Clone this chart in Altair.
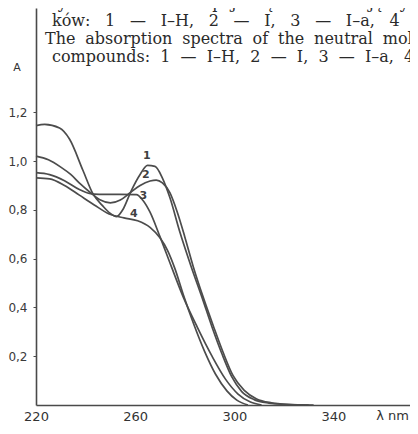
import altair as alt
import pandas as pd

# ---- data (wavelength in nm, absorbance A) ----
wl_1 = [220, 223.5, 229.5, 233.5, 239, 243, 247, 250, 252.5, 255, 258.5, 262, 265, 268, 271, 274, 278, 282.5, 287, 291, 295, 299, 303, 308, 314, 320, 330]
a_1 = [1.145, 1.15, 1.135, 1.09, 0.96, 0.865, 0.815, 0.785, 0.772, 0.80, 0.88, 0.945, 0.982, 0.978, 0.93, 0.85, 0.71, 0.57, 0.44, 0.32, 0.21, 0.115, 0.055, 0.022, 0.008, 0.003, 0.0]

wl_2 = [220, 225, 230, 234, 238, 242, 246, 250, 254, 258, 262, 266, 268.5, 271, 274, 277, 280, 283.5, 287.5, 291.5, 295.5, 299.5, 304, 309, 315, 321, 332]
a_2 = [1.02, 1.005, 0.975, 0.945, 0.905, 0.87, 0.84, 0.828, 0.84, 0.87, 0.90, 0.918, 0.922, 0.91, 0.87, 0.79, 0.69, 0.565, 0.44, 0.325, 0.215, 0.12, 0.06, 0.025, 0.009, 0.003, 0.0]

wl_3 = [220, 225.5, 231.5, 237.5, 241.5, 245.5, 253.5, 260.5, 263, 266, 270, 274.5, 279.5, 285, 291, 296.5, 301.5, 306.5, 311]
a_3 = [0.952, 0.944, 0.919, 0.883, 0.867, 0.863, 0.863, 0.862, 0.84, 0.79, 0.69, 0.57, 0.44, 0.32, 0.20, 0.105, 0.045, 0.012, 0.0]

wl_4 = [220, 225.5, 231.5, 237.5, 243.5, 249.5, 255.5, 261, 266, 270, 273, 276, 279.5, 283.5, 288, 292.5, 297, 301, 305.5]
a_4 = [0.931, 0.927, 0.90, 0.86, 0.82, 0.783, 0.767, 0.755, 0.728, 0.685, 0.635, 0.56, 0.45, 0.335, 0.22, 0.125, 0.058, 0.02, 0.0]

curve_labels = ["1", "2", "3", "4"]
label_wl = [264.7, 264.3, 263.3, 259.5]
label_a = [1.02, 0.944, 0.855, 0.782]

x_ticks = [220, 260, 300, 340]
y_ticks = [0.2, 0.4, 0.6, 0.8, 1.0, 1.2]

# justified caption lines of the reference (wide word spacing)
S2 = "\u2002\u00a0\u200a"
S3 = " \u2009\u200a"
S4 = "\u00a0\u00a0"
caption_lines = [
    "Rys. 2. Widma absorpcji cząsteczek obojętnych związ-",
    S2.join(["ków:", "1", "—", "I–H,", "2", "—", "I,", "3", "—", "I–a,", "4", "—", "I–b"]),
    S3.join(["The", "absorption", "spectra", "of", "the", "neutral", "molecules", "of", "the"]),
    S4.join(["compounds:", "1", "—", "I–H,", "2", "—", "I,", "3", "—", "I–a,", "4", "—", "I–b"]),
]

# ---- build tables ----
rows = []
for name, wl, a in [("1", wl_1, a_1), ("2", wl_2, a_2), ("3", wl_3, a_3), ("4", wl_4, a_4)]:
    for w, v in zip(wl, a):
        rows.append({"series": name, "wl": w, "A": v})
df = pd.DataFrame(rows)
lab = pd.DataFrame({"t": curve_labels, "wl": label_wl, "A": label_a})

W, H = 374, 397
px_per_nm = 2.479
x_max = 220 + W / px_per_nm
y_max = H / 244.0

xs = alt.Scale(domain=[220, x_max], nice=False, zero=False)
ys = alt.Scale(domain=[0, y_max], nice=False, zero=False)

ink = "#4a4a4a"

lines = alt.Chart(df).mark_line(
    color="#4c4c4c", strokeWidth=1.7, interpolate="monotone"
).encode(
    x=alt.X("wl:Q", scale=xs, axis=alt.Axis(
        values=x_ticks, title=None, grid=False, domainColor=ink, domainWidth=1.6,
        ticks=False, labelPadding=5, labelFont="DejaVu Sans", labelFontSize=13,
        labelColor="#333333", labelFlush=False)),
    y=alt.Y("A:Q", scale=ys, axis=alt.Axis(
        values=y_ticks, title=None, grid=False, domainColor=ink, domainWidth=1.6,
        tickColor=ink, tickSize=3, labelPadding=6, labelFont="DejaVu Sans",
        labelFontSize=12, labelColor="#3a3a3a",
        labelExpr="replace(format(datum.value, '.1f'), '.', ',')")),
    detail="series:N",
)

num = alt.Chart(lab).mark_text(
    font="DejaVu Sans", fontSize=11, fontWeight="bold", color="#404040"
).encode(x=alt.X("wl:Q", scale=xs), y=alt.Y("A:Q", scale=ys), text="t:N")

cap = pd.DataFrame({"t": caption_lines, "x": [10, 16, 9, 16], "y": [0, 18, 36, 54]})
caption = alt.Chart(cap).mark_text(
    font="DejaVu Serif", fontSize=16, align="left", baseline="alphabetic", color="#2a2a2a"
).encode(x=alt.X("x:Q", scale=None), y=alt.Y("y:Q", scale=None), text="t:N")

a_title = alt.Chart(pd.DataFrame({"t": ["A"]})).mark_text(
    font="DejaVu Sans", fontSize=11, color="#333333"
).encode(x=alt.value(-19), y=alt.value(60), text="t:N")

lam = alt.Chart(pd.DataFrame({"t": ["λ nm"]})).mark_text(
    font="DejaVu Sans", fontSize=13, color="#333333", align="right", baseline="alphabetic"
).encode(x=alt.value(373), y=alt.value(412), text="t:N")

chart = alt.layer(lines, num, caption, a_title, lam).properties(
    width=W, height=H,
    autosize=alt.AutoSizeParams(type="none"),
    padding={"left": 28, "top": 0, "right": 0, "bottom": 19},
    background="white",
).configure_view(stroke=None)

chart.save("out.html", embed_options={"renderer": "svg", "actions": False})
